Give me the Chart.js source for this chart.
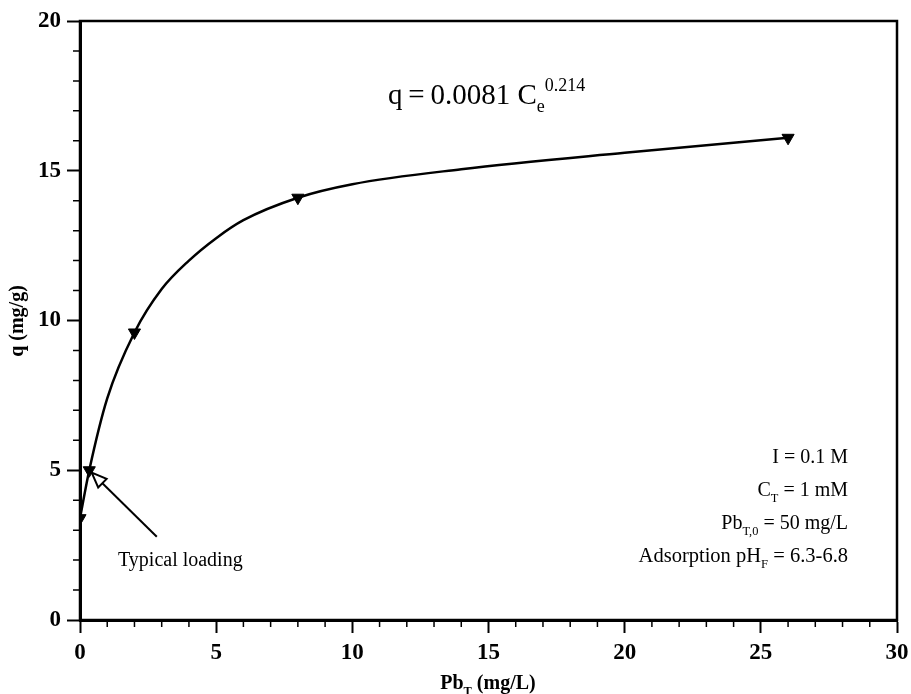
<!DOCTYPE html>
<html>
<head>
<meta charset="utf-8">
<script src="https://cdn.jsdelivr.net/npm/chart.js@4"></script>
<style>
  body { margin: 0; background: #fff; }
  #wrap { width: 911px; height: 694px; }
</style>
</head>
<body>
<div id="wrap"><canvas id="isotherm" width="911" height="694"></canvas></div>
<script>
// measured points (Pb_T in mg/L, q in mg/g)
const ceValues = [0, 0.34, 2, 8, 26];
const qValues = [3.4, 5.0, 9.6, 14.1, 16.1];

// fitted curve
const fitCe = [0, 0.34, 1, 2, 3, 4, 5, 6, 8, 10, 14, 20, 26];
const fitQ = [3.4, 5.0, 7.4, 9.6, 11.05, 12.0, 12.75, 13.35, 14.1, 14.55, 15.05, 15.6, 16.1];

const xTicks = [0, 5, 10, 15, 20, 25, 30];
const yTicks = [0, 5, 10, 15, 20];

// arrow for the "typical loading" note, from tail to tip (data units)
const arrowFrom = [2.82, 2.78];
const arrowTo = [0.43, 4.92];

const serif = '"Liberation Serif", "Times New Roman", serif';
const thin = '\u2009';

function drawRich(ctx, parts, x, y, size, align, bold) {
    const w = bold ? 'bold ' : '';
    let total = 0;
    for (const [t, kind] of parts) {
        ctx.font = w + (kind ? size * 0.62 : size) + 'px ' + serif;
        total += ctx.measureText(t).width;
    }
    let cx = align === 'right' ? x - total : align === 'center' ? x - total / 2 : x;
    ctx.textAlign = 'left';
    ctx.textBaseline = 'alphabetic';
    for (const [t, kind] of parts) {
        const s = kind ? size * 0.62 : size;
        ctx.font = w + s + 'px ' + serif;
        let dy = 0;
        if (kind === 'sub') dy = size * 0.28;
        if (kind === 'sup') dy = -size * 0.45;
        ctx.fillText(t, cx, y + dy);
        cx += ctx.measureText(t).width;
    }
}

const decorations = {
    id: 'decorations',
    afterDraw(chart) {
        const ctx = chart.ctx;
        const xs = chart.scales.x, ys = chart.scales.y;
        const a = chart.chartArea;
        ctx.save();
        ctx.strokeStyle = '#000';
        ctx.fillStyle = '#000';

        // frame
        ctx.lineWidth = 2.5;
        ctx.strokeRect(a.left, a.top, a.right - a.left, a.bottom - a.top);

        // minor ticks
        ctx.lineWidth = 1.5;
        ctx.beginPath();
        for (let v = 1; v < 30; v++) {
            if (v % 5 === 0) continue;
            const px = xs.getPixelForValue(v);
            ctx.moveTo(px, a.bottom);
            ctx.lineTo(px, a.bottom + 7);
        }
        for (let v = 1; v < 20; v++) {
            if (v % 5 === 0) continue;
            const py = ys.getPixelForValue(v);
            ctx.moveTo(a.left, py);
            ctx.lineTo(a.left - 7, py);
        }
        ctx.stroke();

        // arrow
        const x1 = xs.getPixelForValue(arrowFrom[0]), y1 = ys.getPixelForValue(arrowFrom[1]);
        const x2 = xs.getPixelForValue(arrowTo[0]), y2 = ys.getPixelForValue(arrowTo[1]);
        const ang = Math.atan2(y2 - y1, x2 - x1);
        const headLen = 15, headW = 6;
        const bx = x2 - Math.cos(ang) * headLen, by = y2 - Math.sin(ang) * headLen;
        ctx.lineWidth = 2;
        ctx.beginPath();
        ctx.moveTo(x1, y1);
        ctx.lineTo(bx, by);
        ctx.stroke();
        ctx.beginPath();
        ctx.moveTo(x2, y2);
        ctx.lineTo(bx + Math.sin(ang) * headW, by - Math.cos(ang) * headW);
        ctx.lineTo(bx - Math.sin(ang) * headW, by + Math.cos(ang) * headW);
        ctx.closePath();
        ctx.fillStyle = '#fff';
        ctx.fill();
        ctx.stroke();
        ctx.fillStyle = '#000';

        // text notes
        drawRich(ctx, [['q' + thin + '=' + thin + '0.0081 C', ''], ['e', 'sub'], ['0.214', 'sup']], 388, 104, 29, 'left');
        drawRich(ctx, [['Typical loading', '']], 118, 566, 20, 'left');
        drawRich(ctx, [['I = 0.1 M', '']], 848, 463, 20, 'right');
        drawRich(ctx, [['C', ''], ['T', 'sub'], [' = 1 mM', '']], 848, 496, 20, 'right');
        drawRich(ctx, [['Pb', ''], ['T,0', 'sub'], [' = 50 mg/L', '']], 848, 529, 20, 'right');
        drawRich(ctx, [['Adsorption pH', ''], ['F', 'sub'], [' = 6.3-6.8', '']], 848, 562, 20.5, 'right');

        // axis titles
        drawRich(ctx, [['Pb', ''], ['T', 'sub'], [' (mg/L)', '']], 488, 689, 20, 'center', true);
        ctx.translate(23, 321);
        ctx.rotate(-Math.PI / 2);
        drawRich(ctx, [['q (mg/g)', '']], 0, 0, 20, 'center', true);
        ctx.restore();
    }
};

const axisCommon = {
    type: 'linear',
    border: { display: true, color: '#000', width: 3 },
    grid: { display: true, drawOnChartArea: false, drawTicks: true, tickLength: 13, tickWidth: 2, tickColor: '#000' },
    ticks: { color: '#000', font: { family: serif, size: 23, weight: 'bold' }, padding: 6 }
};

new Chart(document.getElementById('isotherm'), {
    type: 'scatter',
    data: {
        datasets: [
            {
                type: 'line',
                label: 'fit',
                data: fitCe.map((c, i) => ({ x: c, y: fitQ[i] })),
                borderColor: '#000',
                borderWidth: 2.5,
                pointRadius: 0,
                cubicInterpolationMode: 'monotone',
                fill: false
            },
            {
                label: 'data',
                data: ceValues.map((c, i) => ({ x: c, y: qValues[i] })),
                pointStyle: 'triangle',
                rotation: 180,
                radius: 7,
                backgroundColor: '#000',
                borderColor: '#000',
                borderWidth: 1
            }
        ]
    },
    options: {
        responsive: false,
        animation: false,
        layout: { padding: { left: 0, right: 14, top: 21, bottom: 0 } },
        plugins: { legend: { display: false }, tooltip: { enabled: false } },
        scales: {
            x: Object.assign({}, axisCommon, {
                min: 0, max: 30,
                afterBuildTicks: s => { s.ticks = xTicks.map(v => ({ value: v })); },
                afterFit: s => { s.height = 74; s.paddingLeft = 0; s.paddingRight = 0; }
            }),
            y: Object.assign({}, axisCommon, {
                min: 0, max: 20,
                afterBuildTicks: s => { s.ticks = yTicks.map(v => ({ value: v })); },
                afterFit: s => { s.width = 80; s.paddingTop = 0; s.paddingBottom = 0; }
            })
        }
    },
    plugins: [decorations]
});
</script>
</body>
</html>
